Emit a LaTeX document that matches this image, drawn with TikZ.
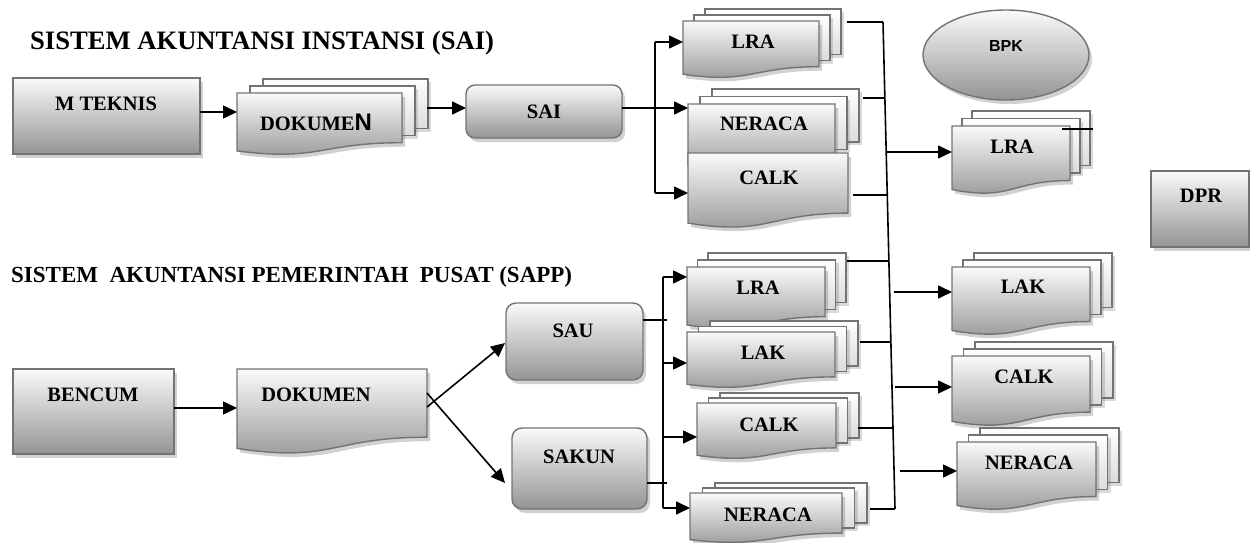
\documentclass[tikz,border=0pt]{standalone}
\usepackage{fontspec}
\setmainfont{Liberation Serif}
\setsansfont{Liberation Sans}
\usetikzlibrary{arrows.meta,shadows,shapes.geometric}

\tikzset{
  shp/.style={draw=black!55, line width=1.4pt, top color=black!2, bottom color=black!42,
    drop shadow={shadow xshift=3pt, shadow yshift=-4pt, opacity=0.3, fill=black!60}},
  backshp/.style={draw=black!55, line width=1.4pt, top color=white, bottom color=black!14,
    drop shadow={shadow xshift=3pt, shadow yshift=-3pt, opacity=0.25, fill=black!60}},
  frame/.style={inner sep=0pt, outer sep=0pt, anchor=north west},
  lab/.style={font=\fontsize{20.5}{24}\selectfont\bfseries, inner sep=0pt},
  ttla/.style={font=\fontsize{26.6}{30}\selectfont\bfseries, inner sep=0pt, anchor=base west},
  ttlb/.style={font=\fontsize{23}{27}\selectfont\bfseries, inner sep=0pt, anchor=base west},
  conn/.style={line width=1.6pt, draw=black},
  arr/.style={conn, -{Triangle[length=14pt,width=13pt]}},
}

% single document: name, x, y, w, h
\newcommand\mkdoc[5]{%
  \path[shp] (#2,#3) -- ({#2+#4},#3) -- ({#2+#4},{#3+0.802*#5})
    .. controls ({#2+0.5*#4},{#3+0.802*#5}) and ({#2+0.5*#4},{#3+1.1075*#5}) .. (#2,{#3+0.934*#5}) -- cycle;
  \node[frame, minimum width=#4, minimum height=#5] (#1) at (#2,#3) {};}
% multi document: name, x, y, w, h, dx, dy
\newcommand\mkmdoc[7]{%
  \path[backshp] ({#2+2*#6},{#3-2*#7}) rectangle ++(#4,{0.802*#5});
  \path[backshp] ({#2+#6},{#3-#7}) rectangle ++(#4,{0.802*#5});
  \mkdoc{#1}{#2}{#3}{#4}{#5}}

\begin{document}
\begin{tikzpicture}[x=1pt,y=-1pt]
\useasboundingbox (0,0) rectangle (1250,543);

% titles
\node[ttla] (t1) at (30,50) {SISTEM AKUNTANSI INSTANSI (SAI)};
\node[ttlb] (t2) at (11,282) {SISTEM\ \ AKUNTANSI PEMERINTAH\ \ PUSAT (SAPP)};

% ---------- top row ----------
\node[shp, frame, minimum width=187, minimum height=76] (mteknis) at (13,78) {};
\mkmdoc{dok1}{237}{93}{165}{62}{13}{7}
\node[shp, frame, rounded corners=9pt, minimum width=156, minimum height=53] (sai) at (466,85) {};
\mkmdoc{lra1}{683}{21}{136}{57}{11}{6}
\mkmdoc{ner1}{688}{104}{147}{66}{12}{7.5}
\mkdoc{calk1}{688}{153}{160}{75}
\node[shp, frame, ellipse, anchor=center, minimum width=166, minimum height=90] (bpk) at (1006,55) {};
\mkmdoc{lra2}{952}{126}{118}{68}{10}{7.5}
\node[shp, frame, minimum width=98, minimum height=76] (dpr) at (1151,171) {};

% ---------- bottom row ----------
\node[shp, frame, minimum width=161, minimum height=85] (bencum) at (13,369) {};
\mkdoc{dok2}{237}{369}{190}{85}
\node[shp, frame, rounded corners=10pt, minimum width=137, minimum height=77] (sau) at (506,303) {};
\node[shp, frame, rounded corners=10pt, minimum width=135, minimum height=81] (sakun) at (512,428) {};
\mkmdoc{lra3}{687}{267}{138}{62}{10.5}{7}
\mkmdoc{lak3}{687}{332}{148}{56}{11.5}{5.5}
\mkmdoc{calk3}{697}{403}{139}{56}{11.5}{5}
\mkmdoc{ner3}{690}{493}{152}{50}{12.5}{5}
\mkmdoc{lak4}{952}{267}{138}{68}{11}{7}
\mkmdoc{calk4}{952}{356}{138}{70}{11.5}{7}
\mkmdoc{ner4}{957}{442}{139}{68}{11.5}{7}

% ---------- labels ----------
\node[lab] (mteknis-t) at (106,104) {M TEKNIS};
\node[lab] (dok1-t) at (316,122) {DOKUME{\sffamily\fontsize{24}{26}\selectfont N}};
\node[lab] (sai-t) at (544,112) {SAI};
\node[lab] (lra1-t) at (753,42) {LRA};
\node[lab] (ner1-t) at (764,124) {NERACA};
\node[lab] (calk1-t) at (769,178) {CALK};
\node[inner sep=0pt, font=\sffamily\bfseries\fontsize{16}{18}\selectfont] (bpk-t) at (1006,46) {BPK};
\node[lab] (lra2-t) at (1012,147) {LRA};
\node[lab] (dpr-t) at (1201,196) {DPR};
\node[lab] (bencum-t) at (93,395) {BENCUM};
\node[lab] (dok2-t) at (316,395) {DOKUMEN};
\node[lab] (sau-t) at (573,331) {SAU};
\node[lab] (sakun-t) at (579,457) {SAKUN};
\node[lab] (lra3-t) at (758,288) {LRA};
\node[lab] (lak3-t) at (763,353) {LAK};
\node[lab] (calk3-t) at (769,425) {CALK};
\node[lab] (ner3-t) at (768,515) {NERACA};
\node[lab] (lak4-t) at (1023,287) {LAK};
\node[lab] (calk4-t) at (1024,377) {CALK};
\node[lab] (ner4-t) at (1029,463) {NERACA};

% ---------- connectors: top ----------
\draw[arr] (mteknis.east |- 0,112) -- (dok1.west |- 0,112);
\draw[arr] (dok1.east |- 0,108) ++(25,0) coordinate (d1o) -- (sai.west |- 0,108);
\draw[arr] (sai.east |- 0,108) -- (ner1.west |- 0,108);
\coordinate (b1t) at (655,42);
\coordinate (b1b) at (655,193);
\draw[conn] (b1t) -- (b1b);
\draw[arr] (b1t) -- (lra1.west |- b1t);
\draw[arr] (b1b) -- (calk1.west |- b1b);

% main collecting bus
\coordinate (B1) at (883,22);
\coordinate (B2) at (895,509);
\draw[conn] (B1) -- (B2);
\coordinate (s1) at (847,22);   \draw[conn] (s1) -- (B1);
\coordinate (s2) at (863,98);   \coordinate (e2) at (885,98);   \draw[conn] (s2) -- (e2);
\coordinate (s3) at (853,195);  \coordinate (e3) at (887.3,195); \draw[conn] (s3) -- (e3);
\coordinate (s4) at (847,261);  \coordinate (e4) at (888.9,261); \draw[conn] (s4) -- (e4);
\coordinate (s5) at (860,342);  \coordinate (e5) at (890.9,342); \draw[conn] (s5) -- (e5);
\coordinate (s6) at (858,428);  \coordinate (e6) at (893,428);   \draw[conn] (s6) -- (e6);
\coordinate (s7) at (870,509);  \draw[conn] (s7) -- (B2);

% bus to right documents
\coordinate (r1) at (886,152);  \draw[arr] (r1) -- (lra2.west |- r1);
\coordinate (r2) at (894,292);  \draw[arr] (r2) -- (lak4.west |- r2);
\coordinate (r3) at (895,387);  \draw[arr] (r3) -- (calk4.west |- r3);
\coordinate (r4) at (900,471);  \draw[arr] (r4) -- (ner4.west |- r4);
\coordinate (x1) at (1062,129); \coordinate (x2) at (1093,129); \draw[conn] (x1) -- (x2);

% ---------- connectors: bottom ----------
\draw[arr] (bencum.east |- 0,408) -- (dok2.west |- 0,408);
\coordinate (dA) at (427,407);
\coordinate (dB) at (427,393);
\draw[arr] (dA) -- (505,343);
\draw[arr] (dB) -- (505,483);
\coordinate (b2t) at (663,277);
\coordinate (b2b) at (663,508);
\draw[conn] (b2t) -- (b2b);
\coordinate (u1) at (667,320); \draw[conn] (sau.east |- u1) -- (u1);
\coordinate (u2) at (667,483); \draw[conn] (sakun.east |- u2) -- (u2);
\draw[arr] (b2t) -- (lra3.west |- b2t);
\coordinate (b2l) at (663,363); \draw[arr] (b2l) -- (lak3.west |- b2l);
\coordinate (b2c) at (662,437); \draw[arr] (b2c) -- (calk3.west |- b2c);
\draw[arr] (b2b) -- (ner3.west |- b2b);
\end{tikzpicture}
\end{document}
